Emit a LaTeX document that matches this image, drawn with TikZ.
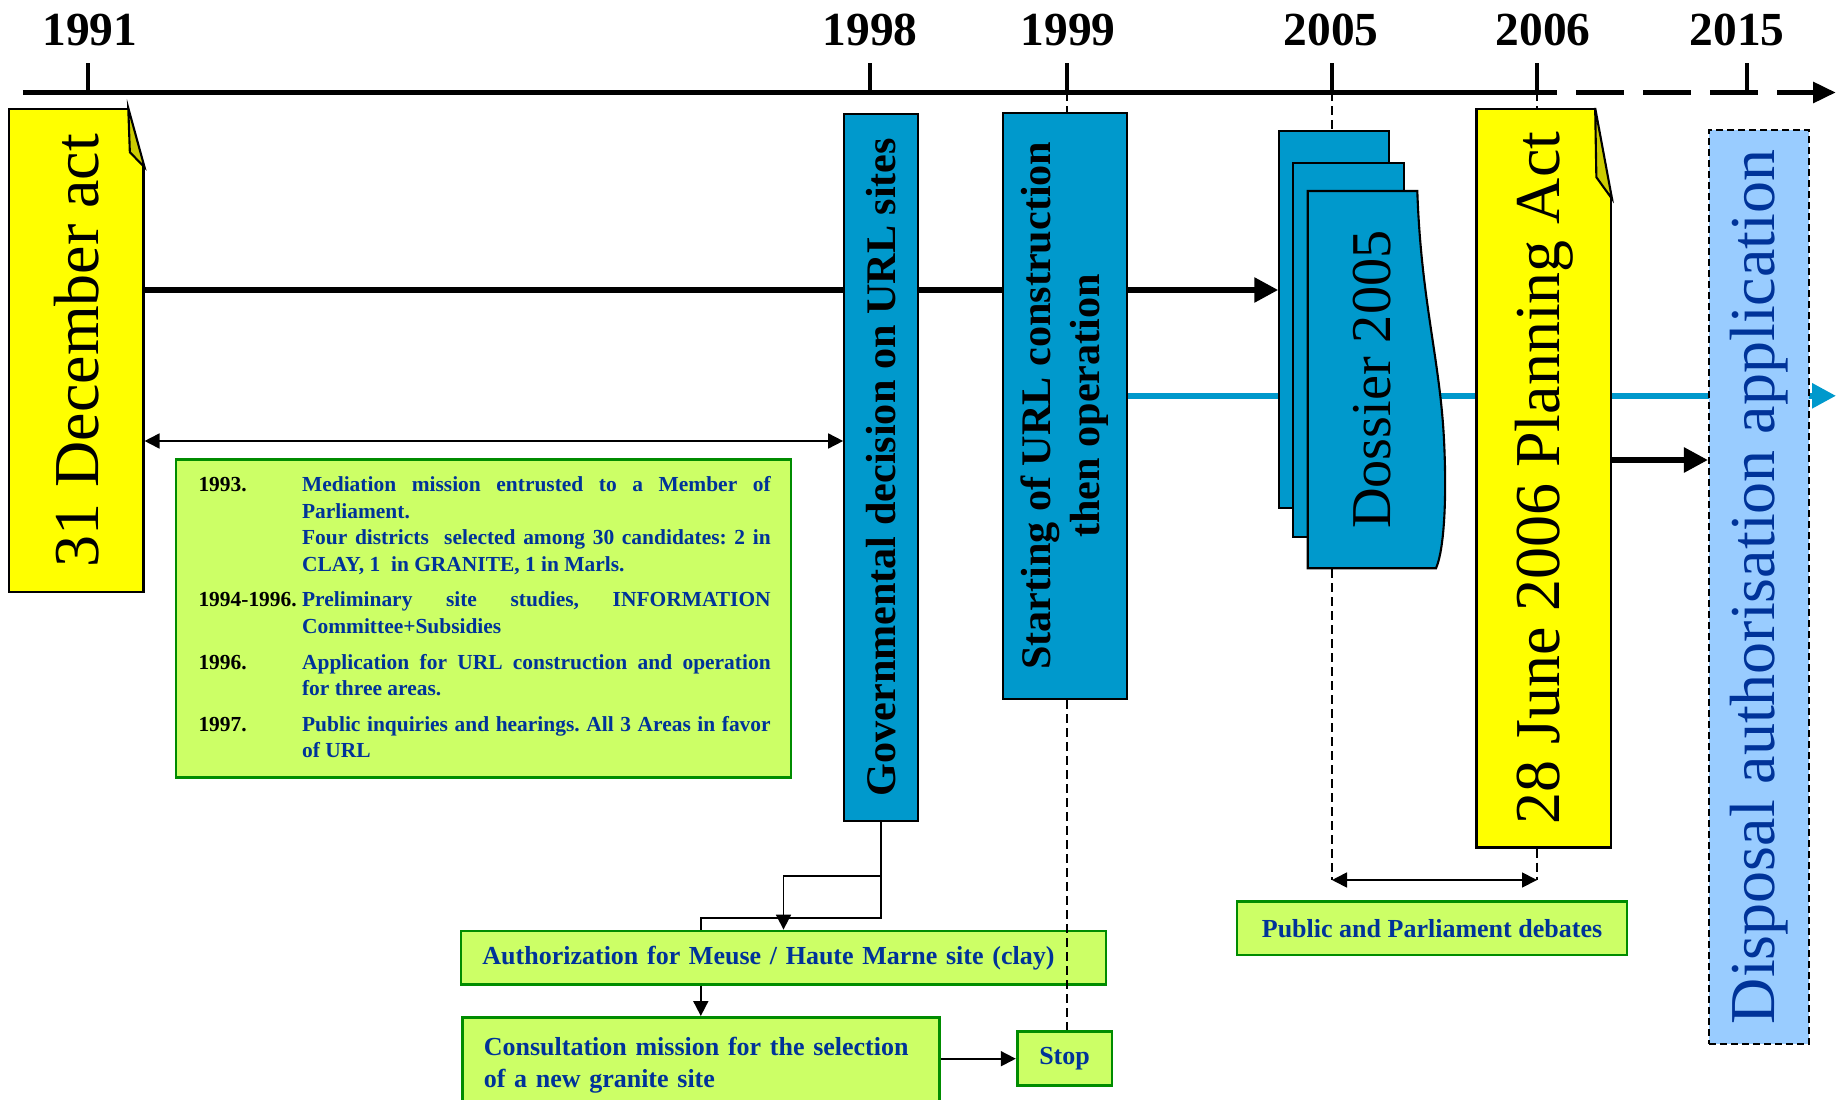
\documentclass[tikz,border=0pt]{standalone}
\usepackage{fontspec}
\setmainfont{Liberation Serif}
\usepackage{graphicx}
\usepackage{xcolor}
\usetikzlibrary{arrows.meta,backgrounds}

\definecolor{actyellow}{RGB}{255,255,0}
\definecolor{foldolive}{RGB}{204,204,0}
\definecolor{urlblue}{RGB}{0,153,204}
\definecolor{skyblue}{RGB}{153,204,255}
\definecolor{notegreen}{RGB}{204,255,102}
\definecolor{edgegreen}{RGB}{0,140,0}
\definecolor{navytext}{RGB}{0,51,153}

\tikzset{
  yearlabel/.style={font=\fontsize{13.5}{16}\selectfont\bfseries, inner sep=0pt},
  yeartick/.style={line width=0.9pt},
  axisline/.style={line width=1.7pt},
  actbox/.style={draw, fill=actyellow, line width=0.6pt, inner sep=0pt,
    font=\fontsize{18.2}{21}\selectfont},
  urlbox/.style={draw, fill=urlblue, line width=0.6pt, inner sep=0pt,
    font=\fontsize{12}{14}\selectfont\bfseries},
  pagebox/.style={draw, fill=urlblue, line width=0.6pt, inner sep=0pt},
  notebox/.style={draw=edgegreen, fill=notegreen, line width=0.8pt,
    text=navytext, font=\fontsize{7.4}{9}\selectfont\bfseries\frenchspacing},
  mainarrow/.style={line width=1.6pt, -{Triangle[length=0.24cm,width=0.24cm]}},
  thinline/.style={line width=0.5pt},
  thinarrow/.style={line width=0.5pt, -{Triangle[length=0.15cm,width=0.15cm]}},
  twoway/.style={line width=0.5pt,
    {Triangle[length=0.15cm,width=0.15cm]}-{Triangle[length=0.15cm,width=0.15cm]}},
  guide/.style={line width=0.5pt, dash pattern=on 0.09cm off 0.05cm},
}

\begin{document}
\begin{tikzpicture}[x=1cm, y=-1cm]

    % Page
    \useasboundingbox (0,0) rectangle (18.36,11.00);
    \clip (0,0) rectangle (18.36,11.00);

    % Timeline
    \draw[axisline] (0.23,0.925) -- (15.57,0.925);
    \draw[axisline, dash pattern=on 0.48cm off 0.19cm,
        -{Triangle[length=0.23cm,width=0.2cm]}] (15.76,0.925) -- (18.36,0.925);
    \foreach \x/\lx/\yr in {0.88/0.90/1991, 8.70/8.70/1998, 10.67/10.68/1999,
                            13.32/13.31/2005, 15.37/15.43/2006, 17.47/17.37/2015} {
        \draw[yeartick] (\x,0.635) -- (\x,0.925);
        \node[yearlabel] (y\yr) at (\lx,0.30) {\yr};
        \coordinate (t\yr) at (\x,0.925);
    }

    % Acts
    \node[actbox, minimum width=1.345cm, minimum height=4.83cm] (act) at (0.7625,3.505)
        {\rotatebox{90}{31 December act}};
    \node[actbox, minimum width=1.345cm, minimum height=7.385cm] (planning) at (15.4375,4.7825)
        {\rotatebox{90}{28 June 2006 Planning Act}};

    % Folded corners
    \foreach \n/\dx/\dy/\ix/\iy in {act/0.163/0.593/0.147/0.443, planning/0.169/0.91/0.157/0.693} {
        \fill[white] ([xshift=-\dx cm]\n.north east) -- ([xshift=-\dx cm,yshift=0.03cm]\n.north east)
            -- ([xshift=0.03cm,yshift=0.03cm]\n.north east) -- ([xshift=0.03cm,yshift=-\dy cm]\n.north east)
            -- ([yshift=-\dy cm]\n.north east) -- cycle;
        \filldraw[fill=foldolive, line width=0.6pt] ([xshift=-\dx cm]\n.north east)
            -- ([xshift=-\ix cm,yshift=-\iy cm]\n.north east) -- ([yshift=-\dy cm]\n.north east) -- cycle;
    }

    % URL decisions
    \node[urlbox, minimum width=0.738cm, minimum height=7.072cm] (decision) at (8.811,4.672)
        {\rotatebox{90}{Governmental decision on URL sites}};
    \node[urlbox, minimum width=1.24cm, minimum height=5.864cm] (start) at (10.65,4.058)
        {\rotatebox{90}{\begin{tabular}{@{}c@{}}Starting of URL construction\\then operation\end{tabular}}};

    % Dossier 2005
    \node[pagebox, minimum width=1.10cm, minimum height=3.776cm] (page1) at (13.343,3.195) {};
    \node[pagebox, minimum width=1.107cm, minimum height=3.746cm] (page2) at (13.487,3.5) {};
    \filldraw[fill=urlblue, line width=0.6pt] (13.077,1.91) -- (14.173,1.91)
        .. controls (14.21,3.0) and (14.40,3.6) .. (14.44,4.4)
        .. controls (14.47,5.0) and (14.44,5.5) .. (14.36,5.683) -- (13.077,5.683) -- cycle;
    \node[inner sep=0pt, minimum width=1.283cm, minimum height=3.773cm,
        font=\fontsize{16}{19}\selectfont] (dossier) at (13.7185,3.7965) {\rotatebox{90}{Dossier 2005}};

    % Disposal
    \node[draw, dash pattern=on 0.07cm off 0.04cm, line width=0.6pt, fill=skyblue, text=navytext,
        inner sep=0pt, minimum width=1.0cm, minimum height=9.14cm,
        font=\fontsize{18.2}{21}\selectfont] (disposal) at (17.59,5.87)
        {\rotatebox{90}{Disposal authorisation application}};

    % 1993-1997 note
    \node[notebox, minimum width=6.15cm, minimum height=3.18cm] (hist) at (4.835,6.183) {};
    \node[anchor=north west, inner sep=0pt, text=navytext,
        font=\fontsize{6.1}{7.55}\selectfont\bfseries\frenchspacing] (histtext)
        at (1.978,4.724) {\tolerance=9999\hbadness=10000%
        \begin{tabular}{@{}p{1.036cm}@{}p{4.686cm}@{}}
        \leavevmode\color{black}1993. & Mediation mission entrusted to a Member of\linebreak
            Parliament.\newline
            Four districts\ \ selected among 30 candidates: 2 in\linebreak
            CLAY, 1\ \ in GRANITE, 1 in Marls.\\[2.6pt]
        \leavevmode\color{black}1994-1996. & Preliminary site studies, INFORMATION\linebreak
            Committee+Subsidies\\[2.6pt]
        \leavevmode\color{black}1996. & Application for URL construction and operation\linebreak
            for three areas.\\[2.6pt]
        \leavevmode\color{black}1997. & Public inquiries and hearings. All 3 Areas in favor\linebreak
            of URL
        \end{tabular}};

    % Outcomes
    \node[notebox, minimum width=6.45cm, minimum height=0.533cm, text width=6.022cm,
        inner xsep=0.214cm, align=left] (auth) at (7.835,9.5765)
        {Authorization for Meuse / Haute Marne site (clay)};
    \node[notebox, anchor=north west, text width=4.34cm, inner xsep=0.214cm, inner ysep=0.2cm]
        (consult) at (4.61,10.16) {Consultation mission for the selection\linebreak of a new granite site};
    \node[notebox, minimum width=0.947cm, minimum height=0.54cm, inner sep=0pt] (stop)
        at (10.6455,10.587) {Stop};
    \node[notebox, minimum width=3.9cm, minimum height=0.533cm, inner sep=0pt] (debates)
        at (14.32,9.2835) {Public and Parliament debates};

    % Rows and bends
    \coordinate (mainrow) at (0,2.90);
    \coordinate (bluerow) at (0,3.958);
    \coordinate (blueend) at (18.36,3.958);
    \coordinate (spanrow) at (0,4.41);
    \coordinate (lastrow) at (0,4.60);
    \coordinate (debL) at (13.32,8.80);
    \coordinate (debR) at (15.37,8.80);
    \coordinate (forkA) at (8.811,8.76);
    \coordinate (forkB) at (8.811,9.183);

    % Long arrows behind the boxes
    \begin{scope}[on background layer]
        \draw[mainarrow] (act.east |- mainrow) -- (page1.west |- mainrow);
        \draw[mainarrow, urlblue] (start.east |- bluerow) -- (blueend);
    \end{scope}

    \draw[twoway] (act.east |- spanrow) -- (decision.west |- spanrow);
    \draw[mainarrow] (planning.east |- lastrow) -- (disposal.west |- lastrow);

    % Year guides
    \draw[guide] (t1999) -- (t1999 |- start.north);
    \draw[guide] (t1999 |- start.south) -- (t1999 |- stop.north);
    \draw[guide] (t2005) -- (t2005 |- page1.north);
    \draw[guide] (t2005 |- dossier.south) -- (debL);
    \draw[guide] (t2006) -- (t2006 |- planning.north);
    \draw[guide] (t2006 |- planning.south) -- (debR);
    \draw[twoway] (debL) -- (debR);

    % Site decisions
    \draw[thinline] (decision.south) -- (forkB) -| (consult.north |- auth.north);
    \draw[thinarrow] (forkA) -| (auth.north);
    \draw[thinarrow] (auth.south -| consult.north) -- (consult.north);
    \draw[thinarrow] (consult.east |- stop.west) -- (stop.west);

\end{tikzpicture}
\end{document}
